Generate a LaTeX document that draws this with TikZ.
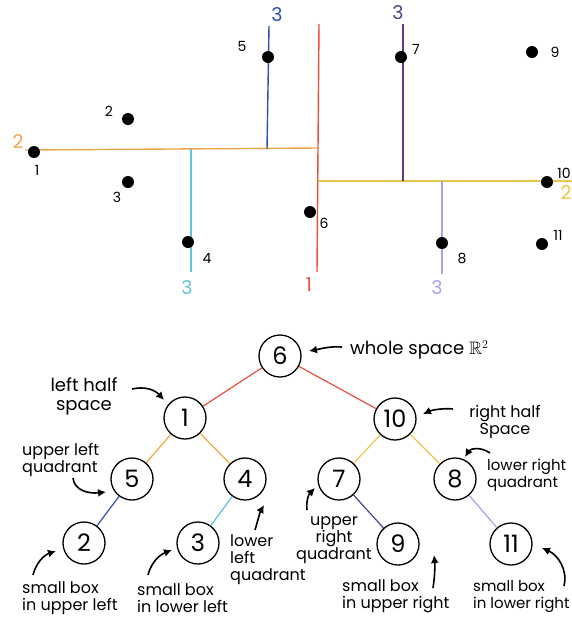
\documentclass[tikz,border=0pt]{standalone}
\usepackage{amssymb}
\usepackage{fontspec}
\setmainfont{Poppins}
\usetikzlibrary{arrows.meta}

\definecolor{cutA}{HTML}{E8503A}
\definecolor{cutB}{HTML}{F0A548}
\definecolor{cutC}{HTML}{2B4FB8}
\definecolor{cutD}{HTML}{5EC3DC}
\definecolor{cutE}{HTML}{EEC548}
\definecolor{cutF}{HTML}{5A3A90}
\definecolor{cutG}{HTML}{A9A0EE}

\begin{document}
\begin{tikzpicture}[x=1pt,y=-1pt,
  split/.style={line width=1.4pt},
  dot/.style={circle, fill=black, inner sep=0pt, minimum size=12pt},
  ptlab/.style={font=\fontsize{14}{14}\selectfont, inner sep=0pt},
  axlab/.style={font=\fontsize{19}{19}\selectfont, inner sep=0pt},
  tnode/.style={circle, draw, line width=1.3pt, minimum size=42pt, inner sep=0pt,
                font=\fontsize{24}{24}\selectfont},
  edge/.style={line width=1.2pt},
  note/.style={font=\fontsize{16}{17}\selectfont, inner sep=0pt},
  bignote/.style={font=\fontsize{18}{19}\selectfont, inner sep=0pt},
  tightnote/.style={font=\fontsize{15}{17}\selectfont, inner sep=0pt},
  hand/.style={line width=1.6pt, -{Latex[length=8pt,width=8pt]}}]
\useasboundingbox (0,0) rectangle (572,625);

% ---------- splitting lines of the plane ----------
\coordinate (r1) at (319,24);  \coordinate (r2) at (317,272);
\coordinate (o1) at (25,150);  \coordinate (o2) at (318,148);
\coordinate (b1) at (269,26);  \coordinate (b2) at (267,149);
\coordinate (c1) at (191,149); \coordinate (c2) at (191,272);
\coordinate (y1) at (318,181); \coordinate (y2) at (572,181);
\coordinate (p1) at (403,24);  \coordinate (p2) at (403,181);
\coordinate (l1) at (442,181); \coordinate (l2) at (442,274);

\draw[split, cutA] (r1) -- (r2);
\draw[split, cutB] (o1) -- (o2);
\draw[split, cutC] (b1) -- (b2);
\draw[split, cutD] (c1) -- (c2);
\draw[split, cutE] (y1) -- (y2);
\draw[split, cutF] (p1) -- (p2);
\draw[split, cutG] (l1) -- (l2);

\node[axlab, text=cutA] (la) at (309,285) {1};
\node[axlab, text=cutB] (lb) at (18,142) {2};
\node[axlab, text=cutC] (lc) at (277,15) {3};
\node[axlab, text=cutD] (ld) at (187,288) {3};
\node[axlab, text=cutE] (le) at (566,193) {2};
\node[axlab, text=cutF] (lf) at (398,13) {3};
\node[axlab, text=cutG] (lg) at (437,288) {3};

% ---------- points ----------
\node[dot] (q1) at (34,152) {};
\node[dot] (q2) at (128,119) {};
\node[dot] (q3) at (128,182) {};
\node[dot] (q4) at (188,242) {};
\node[dot] (q5) at (268,57) {};
\node[dot] (q6) at (310,212) {};
\node[dot] (q7) at (401,57) {};
\node[dot] (q8) at (442,243) {};
\node[dot] (q9) at (532,52) {};
\node[dot] (q10) at (547,182) {};
\node[dot] (q11) at (542,244) {};

\node[ptlab] (t1) at (37,170) {1};
\node[ptlab] (t2) at (109,111) {2};
\node[ptlab] (t3) at (117,197) {3};
\node[ptlab] (t4) at (207,258) {4};
\node[ptlab] (t5) at (242,46) {5};
\node[ptlab] (t6) at (324,223) {6};
\node[ptlab] (t7) at (416,49) {7};
\node[ptlab] (t8) at (462,258) {8};
\node[ptlab] (t9) at (555,52) {9};
\node[ptlab] (t10) at (564,173) {10};
\node[ptlab] (t11) at (558,235) {11};

% ---------- k-d tree ----------
\node[tnode] (n6) at (280,356) {6};
\node[tnode] (n1) at (185,418) {1};
\node[tnode] (n10) at (395,419) {10};
\node[tnode] (n5) at (132,479) {5};
\node[tnode] (n4) at (245,479) {4};
\node[tnode] (n7) at (339,479) {7};
\node[tnode] (n8) at (455,479) {8};
\node[tnode] (n2) at (84,543) {2};
\node[tnode] (n3) at (198,543) {3};
\node[tnode] (n9) at (398,544) {9};
\node[tnode] (n11) at (511,544) {11};

\draw[edge, cutA] (n6) -- (n1);
\draw[edge, cutA] (n6) -- (n10);
\draw[edge, cutB] (n1) -- (n5);
\draw[edge, cutB] (n1) -- (n4);
\draw[edge, cutE] (n10) -- (n7);
\draw[edge, cutE] (n10) -- (n8);
\draw[edge, cutC] (n5) -- (n2);
\draw[edge, cutD] (n4) -- (n3);
\draw[edge, cutF] (n7) -- (n9);
\draw[edge, cutG] (n8) -- (n11);

% ---------- notes ----------
\node[bignote, anchor=west] (w) at (350,350) {whole space $\mathbb{R}^2$};
\node[bignote, align=center] (lh) at (84,396) {left half\\space};
\node[note, align=center] (rh) at (505,422) {right half\\Space};
\node[tightnote, anchor=west, align=left] (lrq) at (487,475) {lower right\\quadrant};
\node[note, anchor=west, align=left] (ulq) at (22,460) {upper left\\quadrant};
\node[note, anchor=west, align=left] (llq) at (230,560) {lower\\left\\quadrant};
\node[note, align=center] (urq) at (334,540) {upper\\right\\quadrant};
\node[note, anchor=west, align=left] (sb1) at (22,598) {small box\\in upper left};
\node[note, anchor=west, align=left] (sb2) at (137,598) {small box\\in lower left};
\node[note, anchor=west, align=left] (sb3) at (342,596) {small box\\in upper right};
\node[tightnote, anchor=west, align=left] (sb4) at (473,596) {small box\\in lower right};

% ---------- pointer arrows ----------
\coordinate (aw0) at (342,347);  \coordinate (aw1) at (309,351);
\coordinate (al0) at (132,389);  \coordinate (al1) at (164,400);
\coordinate (ar0) at (453,409);  \coordinate (ar1) at (423,414);
\coordinate (aq0) at (490,453);  \coordinate (aq1) at (465,457);
\coordinate (au0) at (73,478);   \coordinate (au1) at (106,492);
\coordinate (ad0) at (255,530);  \coordinate (ad1) at (264,505);
\coordinate (ai0) at (307,510);  \coordinate (ai1) at (315,488);
\coordinate (s10) at (33,575);   \coordinate (s11) at (56,551);
\coordinate (s20) at (148,575);  \coordinate (s21) at (172,550);
\coordinate (s30) at (433,588);  \coordinate (s31) at (434,555);
\coordinate (s40) at (564,586);  \coordinate (s41) at (542,548);

\draw[hand] (aw0) .. controls (330,346) and (320,349) .. (aw1);
\draw[hand] (al0) .. controls (145,386) and (155,390) .. (al1);
\draw[hand] (ar0) .. controls (443,408) and (432,410) .. (ar1);
\draw[hand] (aq0) .. controls (480,446) and (470,449) .. (aq1);
\draw[hand] (au0) .. controls (74,490) and (88,494) .. (au1);
\draw[hand] (ad0) .. controls (258,520) and (260,512) .. (ad1);
\draw[hand] (ai0) .. controls (306,500) and (309,494) .. (ai1);
\draw[hand] (s10) .. controls (36,563) and (44,555) .. (s11);
\draw[hand] (s20) .. controls (151,563) and (159,555) .. (s21);
\draw[hand] (s30) .. controls (435,575) and (435,565) .. (s31);
\draw[hand] (s40) .. controls (568,570) and (558,555) .. (s41);
\end{tikzpicture}
\end{document}
